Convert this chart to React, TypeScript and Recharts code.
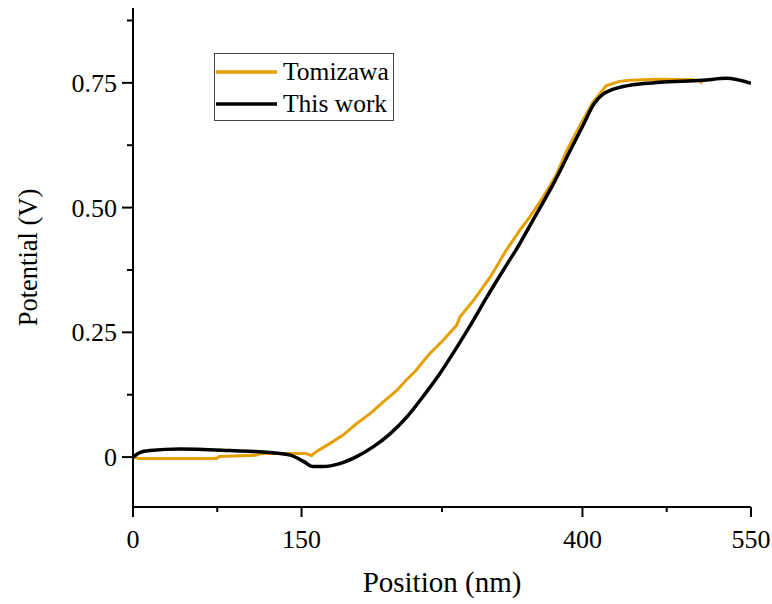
import React from 'react';
import { LineChart, Line, XAxis, YAxis, Legend, Label } from 'recharts';

const FONT = '"Liberation Serif", "Times New Roman", serif';
const ORANGE = '#E69F00';

// Tomizawa series: [position nm, potential V]
const tomizawaX = [0, 6, 74, 77, 110, 113, 154, 159, 163, 175, 187, 199, 211, 223, 235, 243, 252, 258, 264, 276, 288, 291, 303, 318, 332, 344, 353, 365, 377, 386, 398, 409, 421, 433, 442, 466, 498, 504, 507];
const tomizawaV = [0, -0.003, -0.003, 0.001, 0.004, 0.007, 0.007, 0.003, 0.011, 0.027, 0.044, 0.067, 0.087, 0.111, 0.134, 0.154, 0.174, 0.191, 0.207, 0.234, 0.264, 0.281, 0.314, 0.361, 0.414, 0.454, 0.481, 0.521, 0.567, 0.614, 0.665, 0.71, 0.744, 0.753, 0.755, 0.757, 0.756, 0.754, 0.75];

// This work series
const thisWorkX = [0, 6, 15, 42, 86, 122, 140, 152, 160, 169, 184, 199, 214, 229, 244, 258, 273, 286.5, 301, 315, 329.4, 344, 359, 374, 389, 401, 410, 418, 427, 439, 469, 507, 528, 550];
const thisWorkV = [0, 0.009, 0.013, 0.016, 0.013, 0.009, 0.004, -0.009, -0.019, -0.019, -0.013, 0.001, 0.021, 0.047, 0.081, 0.121, 0.167, 0.214, 0.267, 0.321, 0.374, 0.427, 0.487, 0.547, 0.614, 0.667, 0.707, 0.727, 0.737, 0.744, 0.751, 0.755, 0.759, 0.749];

const xTicks = [0, 75, 150, 275, 400, 475, 550];
const xMajor = [0, 150, 400, 550];
const yTicks = [0, 0.125, 0.25, 0.375, 0.5, 0.625, 0.75, 0.875];
const yMajor = [0, 0.25, 0.5, 0.75];
const yLabels: Record<string, string> = { '0': '0', '0.25': '0.25', '0.5': '0.50', '0.75': '0.75' };

const tomizawa = tomizawaX.map((x, i) => ({ x, v: tomizawaV[i] }));
const thisWork = thisWorkX.map((x, i) => ({ x, v: thisWorkV[i] }));

const XTick = (props: any) => {
  const { x, y, payload } = props;
  const major = xMajor.includes(payload.value);
  return (
    <g>
      <line x1={x} x2={x} y1={y} y2={y + (major ? 10 : 5)} stroke="#000" strokeWidth={2} />
      {major && (
        <text x={x} y={y + 41} textAnchor="middle" fontFamily={FONT} fontSize={26} fill="#000">
          {payload.value}
        </text>
      )}
    </g>
  );
};

const YTick = (props: any) => {
  const { x, y, payload } = props;
  const major = yMajor.includes(payload.value);
  return (
    <g>
      <line x1={x} x2={x - (major ? 11 : 6)} y1={y} y2={y} stroke="#000" strokeWidth={2} />
      {major && (
        <text x={x - 16} y={y + 9} textAnchor="end" fontFamily={FONT} fontSize={26} fill="#000">
          {yLabels[String(payload.value)]}
        </text>
      )}
    </g>
  );
};

const renderLegend = () => (
  <div style={{ width: 180, height: 68, border: '1px solid #444', background: '#fff', boxSizing: 'border-box' }}>
    <svg width={178} height={66} style={{ display: 'block' }}>
      <line x1={1} x2={62} y1={18} y2={18} stroke={ORANGE} strokeWidth={3.5} />
      <text x={68} y={26} fontFamily={FONT} fontSize={25.5} fill="#000">Tomizawa</text>
      <line x1={1} x2={62} y1={50} y2={50} stroke="#000" strokeWidth={3.5} />
      <text x={68} y={58} fontFamily={FONT} fontSize={25.5} fill="#000">This work</text>
    </svg>
  </div>
);

const XTitle = (props: any) => {
  const vb = props.viewBox || { x: 133, y: 507, width: 618, height: 60 };
  return (
    <text x={vb.x + vb.width / 2} y={vb.y + 85} textAnchor="middle" fontFamily={FONT} fontSize={29} fill="#000">
      Position (nm)
    </text>
  );
};

const YTitle = (props: any) => {
  const vb = props.viewBox || { x: 0, y: 8, width: 133, height: 499 };
  const cx = vb.x + 37;
  const cy = vb.y + vb.height / 2;
  return (
    <text x={cx} y={cy} transform={`rotate(-90, ${cx}, ${cy})`} textAnchor="middle" fontFamily={FONT} fontSize={26.5} fill="#000">
      Potential (V)
    </text>
  );
};

export default function App() {
  return (
    <div style={{ position: 'absolute', left: 0, top: 0, width: 772, height: 604 }}>
      <LineChart width={772} height={604} margin={{ top: 8, right: 21, bottom: 37, left: 0 }}>
        <XAxis
          dataKey="x"
          type="number"
          domain={[0, 550]}
          ticks={xTicks}
          interval={0}
          tickSize={0}
          tickMargin={0}
          tickLine={false}
          tick={<XTick />}
          height={60}
          axisLine={{ stroke: '#000', strokeWidth: 2 }}
          allowDataOverflow
        >
          <Label content={<XTitle />} />
        </XAxis>
        <YAxis
          type="number"
          domain={[-0.1, 0.9]}
          ticks={yTicks}
          interval={0}
          tickSize={0}
          tickMargin={0}
          tickLine={false}
          tick={<YTick />}
          width={133}
          axisLine={{ stroke: '#000', strokeWidth: 2 }}
          allowDataOverflow
        >
          <Label content={<YTitle />} />
        </YAxis>
        <Legend
          layout="vertical"
          align="center"
          verticalAlign="middle"
          content={renderLegend}
          wrapperStyle={{ left: 214, top: 53, width: 180, height: 68 }}
        />
        <Line data={tomizawa} dataKey="v" name="Tomizawa" type="linear" stroke={ORANGE} strokeWidth={3} dot={false} isAnimationActive={false} />
        <Line data={thisWork} dataKey="v" name="This work" type="monotone" stroke="#000" strokeWidth={3.5} dot={false} isAnimationActive={false} />
      </LineChart>
    </div>
  );
}
